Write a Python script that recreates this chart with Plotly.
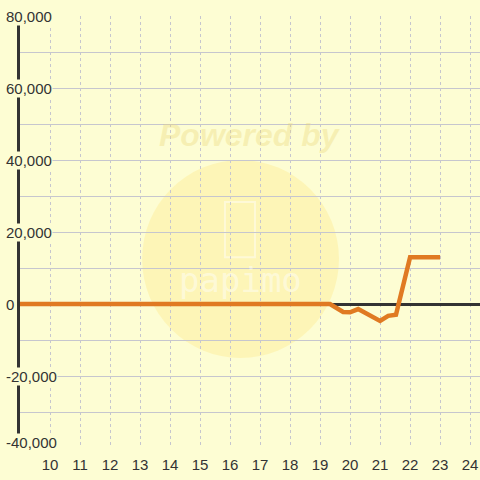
import plotly.graph_objects as go

# series values
hours = [9, 10, 11, 12, 13, 14, 15, 16, 17, 18, 19, 19.33, 19.77, 20, 20.27, 21, 21.27, 21.53, 22, 23]
values = [0, 0, 0, 0, 0, 0, 0, 0, 0, 0, 0, 0, -2200, -2300, -1400, -4700, -3300, -3000, 13000, 13000]

y_ticks = [-40000, -20000, 0, 20000, 40000, 60000, 80000]
y_labels = ["-40,000", "-20,000", "0", "20,000", "40,000", "60,000", "80,000"]
x_ticks = list(range(10, 25))

BG = "#FDFDD3"
INK = "#333333"
LINE = "#E07A22"
GRID = "#C6C6CE"
FONT = "Liberation Sans, Arial, sans-serif"

fig = go.Figure()
fig.add_scatter(
    x=hours, y=values, mode="lines",
    line=dict(color=LINE, width=4.5),
    hoverinfo="skip", showlegend=False,
)

# faint "Powered by" watermark
fig.add_shape(type="circle", xref="x", yref="y", x0=13.07, x1=19.63, y0=-15000, y1=40000,
              fillcolor="rgba(255,228,120,0.30)", line=dict(width=0), layer="below")
fig.add_shape(type="rect", xref="x", yref="y", x0=15.83, x1=16.83, y0=13000, y1=28300,
              fillcolor="rgba(0,0,0,0)", line=dict(color="rgba(255,255,255,0.45)", width=2), layer="below")
fig.add_annotation(x=0.5, y=0.77, xref="paper", yref="paper", text="<b><i>Powered by</i></b>",
                   showarrow=False, font=dict(family=FONT, size=32, color="rgba(235,215,120,0.35)"))
fig.add_annotation(x=0.48, y=0.39, xref="paper", yref="paper", text="papimo",
                   showarrow=False, font=dict(family="DejaVu Sans Mono", size=34,
                                              color="rgba(255,255,255,0.45)"))

# y tick labels drawn over the axis line, on the chart background
for v, lab in zip(y_ticks, y_labels):
    fig.add_annotation(x=-0.032, y=v, xref="paper", yref="y", text=lab, xanchor="left",
                       yshift=6 if v == y_ticks[0] else 0,
                       showarrow=False, bgcolor=BG, borderpad=0,
                       font=dict(family=FONT, size=15, color=INK))

fig.update_layout(
    width=480, height=480,
    margin=dict(l=20, r=0, t=16, b=32),
    paper_bgcolor=BG, plot_bgcolor=BG,
    showlegend=False,
)
fig.update_xaxes(
    range=[9, 24.33], tickvals=x_ticks, showline=False, zeroline=False,
    showgrid=True, gridcolor=GRID, griddash="3px,3px", gridwidth=1,
    ticks="outside", ticklen=3, tickcolor="rgba(0,0,0,0)",
    tickfont=dict(family=FONT, size=15, color=INK),
)
fig.update_yaxes(
    range=[-40000, 80000], tickvals=y_ticks, showticklabels=False, ticks="",
    showgrid=True, gridcolor=GRID, gridwidth=1,
    minor=dict(dtick=10000, showgrid=True, gridcolor=GRID, gridwidth=1),
    zeroline=True, zerolinecolor=INK, zerolinewidth=3,
    showline=True, linecolor=INK, linewidth=3,
)

# drop the page's default body margin so the chart sits at the window corner
fig.write_html("out.html", config={"displayModeBar": False},
               post_script="document.body.style.margin='0';")
